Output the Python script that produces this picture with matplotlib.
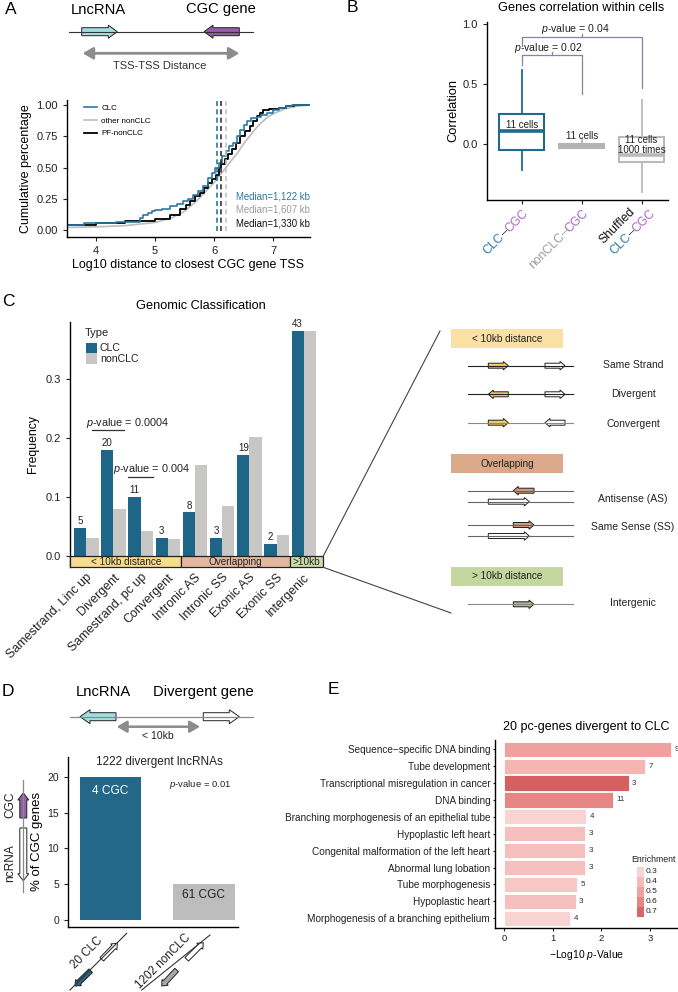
import math
import numpy as np
import matplotlib
matplotlib.use('Agg')
import matplotlib.pyplot as plt
from matplotlib.patches import Polygon, Rectangle, FancyArrowPatch
from matplotlib.lines import Line2D
from matplotlib.colors import LinearSegmentedColormap

plt.rcParams['font.family'] = ['Liberation Sans', 'DejaVu Sans']
plt.rcParams['mathtext.fontset'] = 'custom'
plt.rcParams['mathtext.rm'] = 'Liberation Sans'
plt.rcParams['mathtext.it'] = 'Liberation Sans:italic'
plt.rcParams['axes.linewidth'] = 1.0
plt.rcParams['xtick.major.width'] = 0.8
plt.rcParams['ytick.major.width'] = 0.8
plt.rcParams['xtick.major.size'] = 3
plt.rcParams['ytick.major.size'] = 3

# ---------------- DATA ----------------
# Panel A: cumulative distributions
clc_x = [3.51, 3.80, 4.00, 4.35, 4.75, 4.80, 4.88, 4.95, 5.00, 5.12, 5.25, 5.37, 5.48, 5.56,
         5.65, 5.72, 5.82, 5.90, 5.96, 6.02, 6.08, 6.14, 6.20, 6.26, 6.32, 6.38, 6.44, 6.50,
         6.56, 6.63, 6.72, 6.80, 6.90, 7.00, 7.10, 7.22, 7.32, 7.62]
clc_y = [0.040, 0.053, 0.058, 0.066, 0.100, 0.120, 0.135, 0.150, 0.160, 0.170, 0.190, 0.210,
         0.230, 0.250, 0.280, 0.310, 0.350, 0.420, 0.460, 0.500, 0.540, 0.590, 0.630, 0.670,
         0.700, 0.750, 0.800, 0.840, 0.870, 0.900, 0.905, 0.920, 0.940, 0.960, 0.975, 0.990,
         1.000, 1.000]
pf_x = [3.51, 4.00, 4.50, 5.00, 5.25, 5.42, 5.52, 5.60, 5.68, 5.76, 5.83, 5.90, 5.97, 6.04,
        6.08, 6.12, 6.18, 6.24, 6.30, 6.37, 6.44, 6.52, 6.60, 6.66, 6.72, 6.78, 6.83, 6.92,
        7.00, 7.10, 7.22, 7.35, 7.62]
pf_y = [0.040, 0.053, 0.070, 0.090, 0.120, 0.170, 0.200, 0.230, 0.270, 0.300, 0.340, 0.380,
        0.410, 0.440, 0.500, 0.530, 0.570, 0.610, 0.650, 0.700, 0.750, 0.790, 0.830, 0.870,
        0.910, 0.940, 0.960, 0.965, 0.970, 0.980, 0.990, 1.000, 1.000]
other_x = [3.51, 4.0, 4.5, 5.0, 5.3, 5.5, 5.7, 5.9, 6.0, 6.1, 6.2, 6.3, 6.4, 6.5, 6.6, 6.7,
           6.8, 6.9, 7.0, 7.2, 7.4, 7.62]
other_y = [0.02, 0.025, 0.035, 0.06, 0.10, 0.15, 0.23, 0.33, 0.38, 0.44, 0.50, 0.56, 0.62,
           0.69, 0.75, 0.81, 0.86, 0.90, 0.93, 0.97, 0.99, 1.0]
a_series = ['CLC', 'other nonCLC', 'PF-nonCLC']
a_medians = [6.05, 6.206, 6.124]
a_median_labels = ['Median=1,122 kb', 'Median=1,607 kb', 'Median=1,330 kb']

# Panel B: box statistics
b_groups = ['CLC-CGC', 'nonCLC-CGC', 'Shuffled CLC-CGC']
b_q1 = [-0.05, -0.03, -0.15]
b_med = [0.105, -0.015, -0.095]
b_q3 = [0.25, 0.0, 0.06]
b_whislo = [-0.22, -0.03, -0.40]
b_whishi = [0.62, 0.03, 0.37]
b_box_text = ['11 cells', '11 cells', '11 cells\n1000 times']
b_pvals = ['0.02', '0.04']

# Panel C: genomic classification
c_categories = ['Samestrand, Linc up', 'Divergent', 'Samestrand, pc up', 'Convergent',
                'Intronic AS', 'Intronic SS', 'Exonic AS', 'Exonic SS', 'Intergenic']
c_clc = [0.048, 0.180, 0.100, 0.030, 0.074, 0.030, 0.171, 0.021, 0.382]
c_nonclc = [0.030, 0.080, 0.042, 0.029, 0.154, 0.084, 0.202, 0.035, 0.381]
c_counts = [5, 20, 11, 3, 8, 3, 19, 2, 43]
c_groups = ['< 10kb distance', 'Overlapping', '>10kb']
c_pvals = ['0.0004', '0.004']

# Panel D
d_groups = ['20 CLC', '1202 nonCLC']
d_pct = [20.0, 5.07]
d_bar_text = ['4 CGC', '61 CGC']

# Panel E
e_terms = ['Sequence\u2212specific DNA binding', 'Tube development',
           'Transcriptional misregulation in cancer', 'DNA binding',
           'Branching morphogenesis of an epithelial tube', 'Hypoplastic left heart',
           'Congenital malformation of the left heart', 'Abnormal lung lobation',
           'Tube morphogenesis', 'Hypoplastic heart', 'Morphogenesis of a branching epithelium']
e_logp = [3.43, 2.89, 2.56, 2.23, 1.69, 1.66, 1.66, 1.66, 1.51, 1.47, 1.36]
e_counts = [9, 7, 3, 11, 4, 3, 3, 3, 5, 3, 4]
e_enrich = [0.50, 0.42, 0.72, 0.60, 0.30, 0.38, 0.38, 0.38, 0.35, 0.38, 0.30]
e_legend_vals = [0.3, 0.4, 0.5, 0.6, 0.7]

# ---------------- HELPERS ----------------
W, H = 678, 992
fig = plt.figure(figsize=(W / 100, H / 100), dpi=100)
renderer = fig.canvas.get_renderer()

BLUE = '#2b78a3'
DARKBLUE = '#1f6a8e'
PURPLE = '#a566c0'


def P(x, y):
    return (x / W, 1 - y / H)


def add_axes_px(l, t, r, b):
    return fig.add_axes([l / W, 1 - b / H, (r - l) / W, (b - t) / H])


def ftext(x, y, s, **kw):
    return fig.text(x / W, 1 - y / H, s, **kw)


def fline(xs, ys, **kw):
    fig.add_artist(Line2D([x / W for x in xs], [1 - y / H for y in ys],
                          transform=fig.transFigure, **kw))


def frect(x0, y0, x1, y1, **kw):
    fig.add_artist(Rectangle((x0 / W, 1 - y1 / H), (x1 - x0) / W, (y1 - y0) / H,
                             transform=fig.transFigure, **kw))


def block_arrow(tail, tip, body, head, hlen, fc, ec='#222222', lw=0.7):
    x0, y0 = tail
    x1, y1 = tip
    dx, dy = x1 - x0, y1 - y0
    L = math.hypot(dx, dy)
    ux, uy = dx / L, dy / L
    nx, ny = -uy, ux
    hb, hh = body / 2, head / 2
    bx, by = x1 - ux * hlen, y1 - uy * hlen
    pts = [(x0 + nx * hb, y0 + ny * hb), (bx + nx * hb, by + ny * hb),
           (bx + nx * hh, by + ny * hh), (x1, y1), (bx - nx * hh, by - ny * hh),
           (bx - nx * hb, by - ny * hb), (x0 - nx * hb, y0 - ny * hb)]
    fig.add_artist(Polygon([P(px, py) for px, py in pts], closed=True, fc=fc, ec=ec, lw=lw,
                           transform=fig.transFigure, joinstyle='miter'))


def double_arrow(x0, x1, y, color='#8c8c8c', lw=2.0):
    fig.add_artist(FancyArrowPatch(P(x0, y), P(x1, y), transform=fig.transFigure,
                                   arrowstyle='<|-|>,head_length=0.6,head_width=0.35',
                                   mutation_scale=10, color=color, lw=lw,
                                   shrinkA=0, shrinkB=0))


def twidth(s, fs):
    t = fig.text(0, 0, s, fontsize=fs)
    w = t.get_window_extent(renderer=renderer).width
    t.remove()
    return w


def rot_segments(ax_, ay, segs, fs, angle=45):
    c = math.cos(math.radians(angle))
    s = math.sin(math.radians(angle))
    cum = 0.0
    for txt, col in reversed(segs):
        x = ax_ - cum * c
        y = ay + cum * s
        ftext(x, y, txt, fontsize=fs, color=col, rotation=angle, rotation_mode='anchor',
              ha='right', va='top')
        cum += twidth(txt, fs)


def classic(ax):
    ax.spines['top'].set_visible(False)
    ax.spines['right'].set_visible(False)
    ax.tick_params(colors='#222222', labelcolor='#222222')


# ---------------- PANEL A ----------------
ftext(11, 9, 'A', fontsize=12.5, ha='center', va='center')
ftext(98, 9.5, 'LncRNA', fontsize=10.6, ha='center', va='center')
ftext(221, 9.5, 'CGC gene', fontsize=10.6, ha='center', va='center')
fline([69, 253], [31.7, 31.7], color='#333333', lw=0.8)
block_arrow((81.7, 31.7), (117.3, 31.7), 8, 13, 9, '#a6dde2')
block_arrow((239.3, 31.7), (204, 31.7), 8, 13, 9, '#955ca8')
double_arrow(82.7, 239.3, 53.3)
ftext(160, 66, 'TSS-TSS Distance', fontsize=8, ha='center', va='center', color='#333333')

axA = add_axes_px(67, 100, 310, 237)
classic(axA)
hA_other, = axA.plot(other_x, other_y, color='#bdbdbd', lw=1.2)
hA_pf, = axA.step(pf_x, pf_y, where='post', color='black', lw=1.3)
hA_clc, = axA.step(clc_x, clc_y, where='post', color=BLUE, lw=1.2)
med_cols = [BLUE, '#c2c2c2', '#333333']
for m, col in zip(a_medians, med_cols):
    axA.plot([m, m], [-0.01, 1.045], color=col, lw=1.2, ls=(0, (3, 2)))
for lab, col, yv in zip(a_median_labels, [BLUE, '#9a9a9a', '#111111'], [0.27, 0.164, 0.048]):
    axA.text(7.61, yv, lab, color=col, fontsize=6.9, ha='right', va='center')
axA.set_xlim(3.515, 7.62)
axA.set_ylim(-0.056, 1.04)
axA.set_xticks([4, 5, 6, 7])
axA.set_yticks([0, 0.25, 0.5, 0.75, 1.0])
axA.set_yticklabels(['0.00', '0.25', '0.50', '0.75', '1.00'])
axA.tick_params(labelsize=8)
axA.set_ylabel('Cumulative percentage', fontsize=9, labelpad=3)
axA.set_xlabel('Log10 distance to closest CGC gene TSS', fontsize=9, labelpad=2)
axA.legend([hA_clc, hA_other, hA_pf], a_series, loc='upper left', bbox_to_anchor=(0.055, 0.99),
           frameon=False, fontsize=5.8, handlelength=1.7, labelspacing=0.62,
           handletextpad=0.5, borderaxespad=0)

# ---------------- PANEL B ----------------
ftext(352, 8, 'B', fontsize=12.5, ha='center', va='center')
ftext(581, 8, 'Genes correlation within cells', fontsize=9.2, ha='center', va='center')
axB = add_axes_px(486.7, 22, 668, 200)
classic(axB)
b_cols = [DARKBLUE, '#b4b4b4', '#bababa']
for i in range(3):
    st = [dict(med=b_med[i], q1=b_q1[i], q3=b_q3[i], whislo=b_whislo[i],
               whishi=b_whishi[i], fliers=[])]
    fc = b_cols[i] if i == 1 else 'white'
    axB.bxp(st, positions=[i + 1], widths=0.75, showcaps=False, patch_artist=True,
            boxprops=dict(facecolor=fc, edgecolor=b_cols[i], lw=1.5),
            medianprops=dict(color=b_cols[i], lw=2.6),
            whiskerprops=dict(color=b_cols[i], lw=1.3), manage_ticks=False)
axB.text(1, 0.16, b_box_text[0], fontsize=7, ha='center', va='center', color='#222222')
axB.text(2, 0.07, b_box_text[1], fontsize=7, ha='center', va='center', color='#222222')
axB.text(3, -0.01, b_box_text[2], fontsize=7, ha='center', va='center', color='#222222',
         linespacing=0.95)
bc = '#8585a3'
axB.plot([1, 1, 2, 2], [0.66, 0.74, 0.74, 0.42], color=bc, lw=0.9)
axB.plot([1.5, 1.5], [0.74, 0.765], color=bc, lw=0.9)
axB.plot([1, 1, 3, 3], [0.82, 0.89, 0.89, 0.47], color=bc, lw=0.9)
axB.plot([2, 2], [0.89, 0.915], color=bc, lw=0.9)
axB.text(1.45, 0.80, '$p$-value = ' + b_pvals[0], fontsize=7.6, ha='center', va='center',
         color='#222222')
axB.text(1.9, 0.955, '$p$-value = ' + b_pvals[1], fontsize=7.6, ha='center', va='center',
         color='#222222')
axB.set_xlim(0.417, 3.44)
axB.set_ylim(-0.467, 1.017)
axB.set_yticks([0, 0.5, 1.0])
axB.set_yticklabels(['0.0', '0.5', '1.0'])
axB.set_xticks([1, 2, 3])
axB.set_xticklabels([])
axB.tick_params(labelsize=8)
axB.set_ylabel('Correlation', fontsize=9.3, labelpad=2)
fig.canvas.draw()
tick_px = [axB.transData.transform((x, 0))[0] for x in (1, 2, 3)]
lfs = 8.8
rot_segments(tick_px[0] + 1, 207, [('CLC', BLUE), ('\u2013', '#333333'), ('CGC', PURPLE)], lfs)
rot_segments(tick_px[1] + 1, 207, [('nonCLC', '#9a9a9a'), ('\u2013', '#9a9a9a'), ('CGC', PURPLE)], lfs)
rot_segments(tick_px[2] - 13, 206, [('Shuffled', '#111111')], lfs)
rot_segments(tick_px[2] + 8, 207, [('CLC', BLUE), ('\u2013', '#333333'), ('CGC', PURPLE)], lfs)

# ---------------- PANEL C ----------------
ftext(8.5, 302, 'C', fontsize=12.5, ha='center', va='center')
ftext(201, 306, 'Genomic Classification', fontsize=9.2, ha='center', va='center')
axC = add_axes_px(70, 321.7, 323.3, 567.3)
classic(axC)
xs = np.arange(len(c_categories))
axC.bar(xs - 0.225, c_clc, width=0.45, color='#1e6688', zorder=2)
axC.bar(xs + 0.225, c_nonclc, width=0.45, color='#c9c6c6', zorder=2)
for x, v, n in zip(xs, c_clc, c_counts):
    axC.text(x - 0.225, v + 0.003, str(n), fontsize=7, ha='center', va='bottom', color='#222222')
band_bounds = [(-0.6, 3.5), (3.5, 7.5), (7.5, 8.72)]
band_cols = ['#f7db8e', '#e3b89e', '#cbdca8']
for (b0, b1), col, lab in zip(band_bounds, band_cols, c_groups):
    axC.add_patch(Rectangle((b0, -0.0192), b1 - b0, 0.0192, fc=col, ec='#222222', lw=0.9,
                            clip_on=False, zorder=3))
    axC.text((b0 + b1) / 2, -0.0096, lab, fontsize=7.2, ha='center', va='center',
             color='#222222', zorder=4)
axC.plot([0.2, 1.4], [0.2136, 0.2136], color='#333333', lw=0.9)
axC.text(1.52, 0.2245, '$p$-value = ' + c_pvals[0], fontsize=7.8, ha='center', va='center',
         color='#222222')
axC.plot([1.55, 2.44], [0.1345, 0.1345], color='#333333', lw=0.9)
axC.text(2.41, 0.147, '$p$-value = ' + c_pvals[1], fontsize=7.8, ha='center', va='center',
         color='#222222')
axC.set_xlim(-0.6, 8.72)
axC.set_ylim(-0.0192, 0.397)
axC.spines['bottom'].set_visible(False)
axC.set_yticks([0, 0.1, 0.2, 0.3])
axC.set_yticklabels(['0.0', '0.1', '0.2', '0.3'])
axC.set_xticks(xs)
axC.set_xticklabels(c_categories, rotation=45, ha='right', rotation_mode='anchor')
axC.tick_params(axis='x', length=0, pad=3, labelsize=9)
axC.tick_params(axis='y', labelsize=8)
axC.set_ylabel('Frequency', fontsize=8.8, labelpad=5)
# legend
ftext(85, 333, 'Type', fontsize=8, ha='left', va='center', color='#222222')
frect(86, 343, 97, 353.5, fc='#1e6688', ec='none')
frect(86, 353.5, 97, 364, fc='#c9c6c6', ec='none')
ftext(100, 348, 'CLC', fontsize=7.6, ha='left', va='center', color='#222222')
ftext(100, 359, 'nonCLC', fontsize=7.6, ha='left', va='center', color='#222222')

# connecting lines
fline([323.3, 440], [556, 331], color='#444444', lw=0.8)
fline([323.3, 451], [567.3, 613], color='#444444', lw=0.8)

# schematic on the right of C
hdrs = [('< 10kb distance', 329.3, 347.7, '#fae0a2'),
        ('Overlapping', 454.3, 473.3, '#d9a98a'),
        ('> 10kb distance', 566.7, 585.7, '#c3d79f')]
for lab, t, b, col in hdrs:
    frect(450.7, t, 563.3, b, fc=col, ec='none')
    ftext(507, (t + b) / 2, lab, fontsize=7.2, ha='center', va='center', color='#222222')
YEL, SAL, GRN = '#f2cb60', '#d49a7c', '#a6bb86'
ab, ah, al = 5, 8.5, 5
for yy, lcol in [(365.7, '#222222'), (394.3, '#222222'), (422.7, '#8a8a8a')]:
    fline([468.3, 573.3], [yy, yy], color=lcol, lw=0.8)
block_arrow((488.3, 365.7), (508.3, 365.7), ab, ah, al, YEL)
block_arrow((545, 365.7), (565, 365.7), ab, ah, al, 'white')
block_arrow((508.3, 394.3), (488.3, 394.3), ab, ah, al, YEL)
block_arrow((545, 394.3), (565, 394.3), ab, ah, al, 'white')
block_arrow((488.3, 422.7), (508.3, 422.7), ab, ah, al, YEL)
block_arrow((565, 422.7), (545, 422.7), ab, ah, al, 'white')
for yy in (490.7, 501.7, 525, 536):
    fline([468.3, 573.3], [yy, yy], color='#666666', lw=0.8)
block_arrow((534, 490.7), (513.3, 490.7), ab, ah, al, SAL)
block_arrow((488.3, 501.7), (529.3, 501.7), ab, ah, al, 'white')
block_arrow((513.3, 525), (534, 525), ab, ah, al, SAL)
block_arrow((488.3, 536), (529.3, 536), ab, ah, al, 'white')
fline([468.3, 573.3], [604.3, 604.3], color='#8a8a8a', lw=0.8)
block_arrow((513.3, 604.3), (534, 604.3), ab, ah, al, GRN)
for lab, yy in [('Same Strand', 365), ('Divergent', 394), ('Convergent', 423.5),
                ('Antisense (AS)', 499.5), ('Same Sense (SS)', 527.5), ('Intergenic', 603.5)]:
    ftext(633, yy, lab, fontsize=7.5, ha='center', va='center', color='#222222')

# ---------------- PANEL D ----------------
ftext(8, 692, 'D', fontsize=12.5, ha='center', va='center')
ftext(103, 692, 'LncRNA', fontsize=10.6, ha='center', va='center')
ftext(203, 692, 'Divergent gene', fontsize=10.6, ha='center', va='center')
fline([70, 253.3], [716.7, 716.7], color='#8a8a8a', lw=0.9)
block_arrow((116, 716.7), (80, 716.7), 8, 14, 10, '#a6dde2')
block_arrow((203.3, 716.7), (239.3, 716.7), 8, 14, 10, 'white')
double_arrow(116.7, 200, 726.7, lw=1.8)
ftext(158.3, 736, '< 10kb', fontsize=7.5, ha='center', va='center', color='#222222')

axD = add_axes_px(68.3, 756.7, 238.3, 926.7)
classic(axD)
axD.bar([1, 2], d_pct, width=0.66, color=['#236888', '#bdbdbd'])
axD.text(1, 18.0, d_bar_text[0], fontsize=8.6, color='white', ha='center', va='center')
axD.text(2, 3.5, d_bar_text[1], fontsize=8.6, color='#222222', ha='center', va='center')
axD.text(1.52, 22.0, '1222 divergent lncRNAs', fontsize=8.5, ha='center', va='center',
         color='#222222')
axD.text(1.96, 18.9, '$p$-value = 0.01', fontsize=6.8, ha='center', va='center',
         color='#222222')
axD.set_xlim(0.545, 2.37)
axD.set_ylim(-0.93, 22.8)
axD.set_yticks([0, 5, 10, 15, 20])
axD.set_xticks([])
axD.tick_params(labelsize=7.5)
axD.set_ylabel('% of CGC genes', fontsize=9.5, labelpad=3)
# vertical schematic on the left
fline([23.3, 23.3], [780, 891.7], color='#8a8a8a', lw=0.9)
block_arrow((23.3, 818), (23.3, 793), 7, 11, 7, '#955ca8')
block_arrow((23.3, 828), (23.3, 880.7), 7, 11, 7, 'white')
ftext(10, 805, 'CGC', fontsize=8.6, rotation=90, ha='center', va='center', color='#222222')
ftext(10, 863, 'ncRNA', fontsize=8.6, rotation=90, ha='center', va='center', color='#222222')
# diagonal labels under the bars
fline([70, 126.7], [990, 933.3], color='#333333', lw=0.8)
block_arrow((101.7, 959.3), (117.3, 943.3), 5, 8.5, 5, 'white')
block_arrow((90.7, 970.7), (75, 986), 5, 8.5, 5, '#236888')
ftext(86.7, 953.3, d_groups[0], fontsize=8.4, rotation=45, ha='center', va='center',
      color='#222222')
fline([141.7, 210], [990, 935], color='#333333', lw=0.8)
block_arrow((186.7, 959.3), (203.3, 942.7), 5, 8.5, 5, 'white')
block_arrow((176.7, 970), (161.7, 986), 5, 8.5, 5, '#a8a8a8')
ftext(163.3, 961.7, d_groups[1], fontsize=8.4, rotation=45, ha='center', va='center',
      color='#222222')

# ---------------- PANEL E ----------------
ftext(333, 690, 'E', fontsize=12.5, ha='center', va='center')
axE = add_axes_px(495, 740, 678, 928.3)
classic(axE)
cmap = LinearSegmentedColormap.from_list('enr', ['#fad8d6', '#f3b4b1', '#e98f8d', '#d65f61'])
norm = plt.Normalize(0.28, 0.72)
ys = np.arange(len(e_terms))[::-1]
axE.barh(ys, e_logp, height=0.9, color=[cmap(norm(v)) for v in e_enrich],
         edgecolor='white', lw=0.6)
for y, v, n in zip(ys, e_logp, e_counts):
    axE.text(v + 0.07, y, str(n), fontsize=5.8, ha='left', va='center', color='#333333')
axE.set_xlim(-0.18, 3.57)
axE.set_ylim(-0.6, 10.55)
axE.set_yticks(ys)
axE.set_yticklabels(e_terms)
axE.set_xticks([0, 1, 2, 3])
axE.tick_params(axis='y', labelsize=7.2, length=1.5, pad=2)
axE.tick_params(axis='x', labelsize=6.8, length=2, pad=2)
axE.set_xlabel('\u2212Log10 $p$-Value', fontsize=7.5, labelpad=4)
axE.set_title('20 pc-genes divergent to CLC', fontsize=9, pad=7)
ftext(631.5, 859.3, 'Enrichment', fontsize=6.3, ha='left', va='center', color='#222222')
for i, v in enumerate(e_legend_vals):
    y0 = 866.7 + i * 10
    frect(636.7, y0, 643.5, y0 + 10, fc=cmap(norm(v)), ec='none')
    ftext(646, y0 + 5, f'{v:.1f}', fontsize=6, ha='left', va='center', color='#222222')

fig.savefig('out.png', dpi=100)
